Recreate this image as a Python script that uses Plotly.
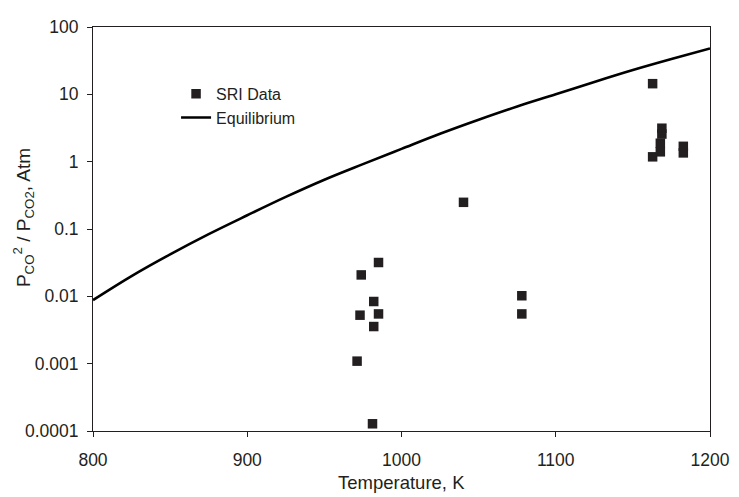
import plotly.graph_objects as go

# SRI data points (Temperature K, P_CO^2/P_CO2 atm)
sri_temp = [985.1, 973.9, 982.0, 973.1, 985.1, 982.0, 971.2, 981.2,
            1040.2, 1078.0, 1078.0,
            1162.8, 1168.8, 1168.8, 1167.8, 1167.8, 1162.8, 1182.7, 1182.7]
sri_ratio = [0.0318, 0.0208, 0.00838, 0.00525, 0.00548, 0.00356, 0.00109, 0.000128,
             0.249, 0.0102, 0.00548,
             14.4, 3.14, 2.57, 1.88, 1.40, 1.18, 1.69, 1.35]

# Equilibrium curve
eq_temp = [800, 825, 850, 875, 900, 925, 950, 975, 1000, 1025, 1050, 1075,
           1100, 1125, 1150, 1175, 1200]
eq_ratio = [0.0088, 0.020, 0.042, 0.084, 0.16, 0.30, 0.54, 0.92, 1.55, 2.6,
            4.2, 6.6, 10.0, 15.3, 23.0, 33.5, 48.0]

x_ticks = [800, 900, 1000, 1100, 1200]
y_ticks = [0.0001, 0.001, 0.01, 0.1, 1, 10, 100]
y_ticktext = ["0.0001", "0.001", "0.01", "0.1", "1", "10", "100"]

x_title = "Temperature, K"
y_title = "P<sub>CO</sub><sup>2</sup> / P<sub>CO2</sub>, Atm"

font_family = "Liberation Sans, Arial, sans-serif"
axis_col = "#231f20"

# page body has an 8px default margin; shrink the figure so it fits the window
OFF = 8
W, H = 739 - OFF, 497 - OFF
# plot area in picture pixels: x 93..717, y 17..431
L, R, T, B = 93 - OFF, 739 - 717, 17 - OFF, 497 - 431
plot_w = 717 - 93
plot_h = 431 - 17

fig = go.Figure()
fig.add_trace(go.Scatter(
    x=sri_temp, y=sri_ratio, mode="markers", name="SRI Data",
    marker=dict(symbol="square", size=9.5, color="#231f20", line=dict(width=0)),
))
fig.add_trace(go.Scatter(
    x=eq_temp, y=eq_ratio, mode="lines", name="Equilibrium",
    line=dict(color="#000000", width=2.6, shape="spline"),
))

fig.update_layout(
    width=W, height=H,
    margin=dict(l=L, r=R, t=T, b=B),
    paper_bgcolor="white", plot_bgcolor="white",
    font=dict(family=font_family, size=17, color="#231f20"),
    showlegend=True,
    legend=dict(x=(177 - 93) / plot_w, y=(431 - 68) / plot_h,
                xanchor="left", yanchor="top",
                bgcolor="rgba(0,0,0,0)", font=dict(size=16),
                tracegroupgap=0, itemwidth=30),
    xaxis=dict(
        range=[800, 1200], tickvals=x_ticks,
        ticks="outside", ticklen=5, tickcolor=axis_col, tickwidth=1,
        showline=True, linecolor=axis_col, linewidth=1, mirror=True,
        showgrid=False, zeroline=False,
        tickfont=dict(size=17.5), ticklabelstandoff=8,
    ),
    yaxis=dict(
        type="log", range=[-4, 2], tickvals=y_ticks, ticktext=y_ticktext,
        ticks="outside", ticklen=5, tickcolor=axis_col, tickwidth=1,
        showline=True, linecolor=axis_col, linewidth=1, mirror=True,
        showgrid=False, zeroline=False,
        tickfont=dict(size=17.5), ticklabelstandoff=5,
    ),
    annotations=[
        dict(text=x_title, xref="paper", yref="paper",
             x=0.5, y=(431 - 484) / plot_h, xanchor="center", yanchor="middle",
             showarrow=False, font=dict(size=18.5)),
        dict(text=y_title, xref="paper", yref="paper",
             x=(23 - 93) / plot_w, y=(431 - 212) / plot_h,
             xanchor="center", yanchor="middle",
             textangle=-90, showarrow=False, font=dict(size=19)),
    ],
)

fig.write_html("out.html")
